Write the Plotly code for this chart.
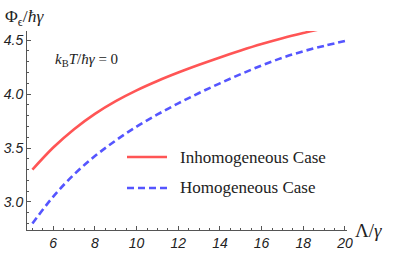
import plotly.graph_objects as go

# Data
lam = [5, 6, 7, 8, 9, 10, 11, 12, 13, 14, 15, 16, 17, 18, 19, 20]
inhomogeneous = [3.30, 3.505, 3.675, 3.817, 3.935, 4.035, 4.122, 4.20, 4.272, 4.34, 4.404, 4.464, 4.518, 4.566, 4.61, 4.65]
homogeneous = [2.80, 3.05, 3.255, 3.425, 3.57, 3.698, 3.811, 3.914, 4.01, 4.10, 4.185, 4.265, 4.337, 4.397, 4.447, 4.492]
series_names = ["Inhomogeneous Case", "Homogeneous Case"]

x_ticks = [6, 8, 10, 12, 14, 16, 18, 20]
y_ticks = [3.0, 3.5, 4.0, 4.5]
y_tick_text = ["3.0", "3.5", "4.0", "4.5"]

RED = "#FF5555"
BLUE = "#5555FF"
AXIS = "#555555"
TEXT = "#222222"

fig = go.Figure()
fig.add_trace(go.Scatter(
    x=lam, y=inhomogeneous, mode="lines", name=series_names[0], showlegend=False,
    line=dict(color=RED, width=2.6, shape="spline")))
fig.add_trace(go.Scatter(
    x=lam, y=homogeneous, mode="lines", name=series_names[1], showlegend=False,
    line=dict(color=BLUE, width=2.6, shape="spline", dash="7px,4px")))

tickfont = dict(family="Liberation Sans", size=14, color=TEXT)

fig.update_layout(
    width=395, height=255,
    margin=dict(l=27, r=48, t=31, b=25),
    paper_bgcolor="white", plot_bgcolor="white",
    xaxis=dict(range=[4.74, 20.1], showgrid=False, zeroline=False, automargin=False,
               showline=True, linecolor=AXIS, linewidth=1,
               tickmode="array", tickvals=x_ticks,
               ticktext=["<i>%d</i>" % v for v in x_ticks],
               ticks="inside", ticklen=4, tickcolor=AXIS,
               minor=dict(dtick=0.5, tick0=0, ticks="inside", ticklen=2, tickcolor=AXIS),
               tickfont=tickfont),
    yaxis=dict(range=[2.74, 4.585], showgrid=False, zeroline=False, automargin=False,
               showline=True, linecolor=AXIS, linewidth=1,
               tickmode="array", tickvals=y_ticks,
               ticktext=["<i>%s</i>" % t for t in y_tick_text],
               ticks="inside", ticklen=4, tickcolor=AXIS,
               minor=dict(dtick=0.1, tick0=0, ticks="inside", ticklen=2, tickcolor=AXIS),
               tickfont=tickfont),
)

# Legend (drawn in paper coordinates)
legend_rows = [(0.3668, RED, "solid"), (0.2111, BLUE, "7px,4px")]
for (ly, col, dash), name in zip(legend_rows, series_names):
    fig.add_shape(type="line", xref="paper", yref="paper", x0=0.3125, x1=0.4375, y0=ly, y1=ly,
                  line=dict(color=col, width=2.6, dash=dash))
    fig.add_annotation(xref="paper", yref="paper", x=0.4719, y=ly, xanchor="left", yanchor="middle",
                       text=name, showarrow=False,
                       font=dict(family="Liberation Serif", size=17, color=TEXT))

fig.add_annotation(xref="paper", yref="paper", x=-0.075, y=1.07, xanchor="left", yanchor="middle",
                   text="Φ<sub>ϵ</sub>/<i>ħγ</i>", showarrow=False,
                   font=dict(family="Liberation Serif", size=17.5, color=TEXT))
fig.add_annotation(xref="paper", yref="paper", x=1.02, y=0.0, xanchor="left", yanchor="middle",
                   text="Λ/<i>γ</i>", showarrow=False,
                   font=dict(family="Liberation Serif", size=19, color=TEXT))
fig.add_annotation(xref="paper", yref="paper", x=0.08, y=0.855, xanchor="left", yanchor="middle",
                   text="<i>k</i><sub>B</sub><i>T</i>/<i>ħγ</i> = 0", showarrow=False,
                   font=dict(family="Liberation Serif", size=15, color=TEXT))

fig.write_html("out.html", config={"displayModeBar": False},
               post_script="document.body.style.margin='0';")
